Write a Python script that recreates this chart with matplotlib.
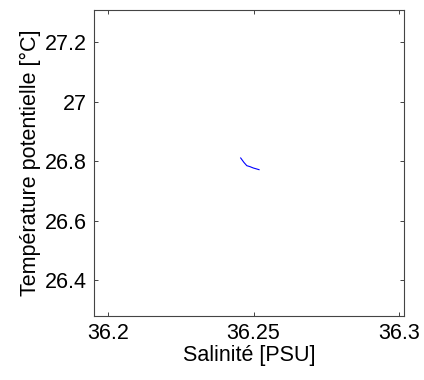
import matplotlib.pyplot as plt
import numpy as np

# profil T-S
salinite = [36.2456, 36.2467, 36.2477, 36.2488, 36.2499, 36.2519]
temperature = [26.8114, 26.7966, 26.7855, 26.7822, 26.7778, 26.7721]

xticks = [36.2, 36.25, 36.3]
xticklabels = ["36.2", "36.25", "36.3"]
yticks = [26.4, 26.6, 26.8, 27.0, 27.2]
yticklabels = ["26.4", "26.6", "26.8", "27", "27.2"]

plt.rcParams['font.family'] = ['Liberation Sans', 'DejaVu Sans']

fig = plt.figure(figsize=(4.24, 3.8), dpi=100)
ax = fig.add_axes([0.2217, 0.1684, 0.7311, 0.8053])

ax.plot(salinite, temperature, color='#0000ff', linewidth=0.8)

ax.set_xlim(36.1953, 36.3016)
ax.set_ylim(26.28, 27.309)
ax.set_xticks(xticks)
ax.set_xticklabels(xticklabels)
ax.set_yticks(yticks)
ax.set_yticklabels(yticklabels)

ax.tick_params(direction='in', length=3, width=0.6, top=True, right=True,
               labelsize=15.5, colors='#222222', labelcolor='black', pad=5)
for s in ax.spines.values():
    s.set_color('#444444')
    s.set_linewidth(0.8)

ax.set_xlabel("Salinité [PSU]", fontsize=15.5, labelpad=1)
ax.set_ylabel("Température potentielle [°C]", fontsize=15.5, labelpad=3)

fig.savefig("out.png", dpi=100)
